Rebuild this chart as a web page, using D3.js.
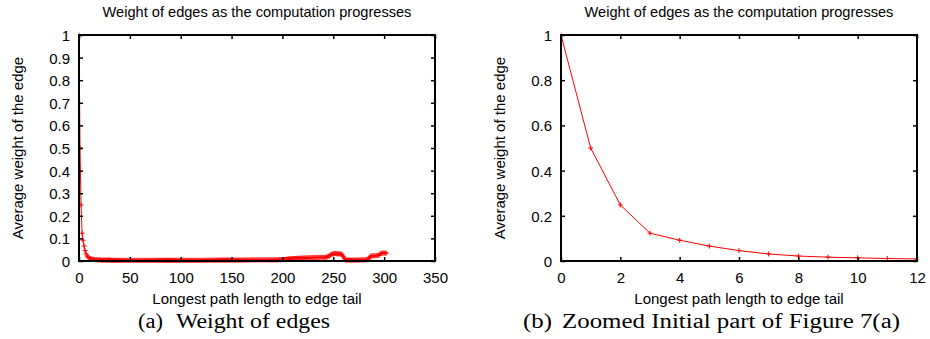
<!DOCTYPE html>
<html>
<head>
<meta charset="utf-8">
<script src="https://cdn.jsdelivr.net/npm/d3@7"></script>
<style>
  body { margin: 0; background: #fff; }
  svg { display: block; }
</style>
</head>
<body>
<svg id="chart" width="930" height="339"></svg>
<script>
// average edge weight, one value per longest-path length 0..302
const avgWeight = [
  1, 0.5, 0.248, 0.123, 0.092, 0.066, 0.046, 0.031, 0.022, 0.017, 0.014, 0.011, 0.009,
  0.008, 0.007, 0.007, 0.006, 0.006, 0.005, 0.005,
  0.005, 0.005, 0.004, 0.004, 0.004, 0.004, 0.004, 0.004, 0.004, 0.004,
  0.004, 0.004, 0.003, 0.003, 0.003, 0.003, 0.003, 0.003, 0.003, 0.003,
  0.003, 0.003, 0.003, 0.003, 0.003, 0.003, 0.003, 0.003, 0.003, 0.003,
  0.003, 0.003, 0.003, 0.003, 0.003, 0.003, 0.003, 0.003, 0.003, 0.003,
  0.003, 0.003, 0.003, 0.003, 0.003, 0.003, 0.003, 0.003, 0.003, 0.003,
  0.003, 0.003, 0.003, 0.003, 0.003, 0.003, 0.003, 0.003, 0.003, 0.003,
  0.003, 0.003, 0.003, 0.003, 0.003, 0.003, 0.003, 0.003, 0.003, 0.003,
  0.003, 0.003, 0.003, 0.003, 0.003, 0.003, 0.003, 0.003, 0.003, 0.003,
  0.003, 0.003, 0.003, 0.003, 0.003, 0.003, 0.003, 0.003, 0.003, 0.003,
  0.003, 0.003, 0.003, 0.003, 0.003, 0.003, 0.003, 0.003, 0.003, 0.003,
  0.003, 0.003, 0.003, 0.003, 0.003, 0.004, 0.003, 0.003, 0.004, 0.003,
  0.004, 0.003, 0.004, 0.004, 0.003, 0.004, 0.004, 0.004, 0.004, 0.004,
  0.004, 0.004, 0.004, 0.004, 0.004, 0.004, 0.004, 0.004, 0.004, 0.004,
  0.004, 0.004, 0.004, 0.004, 0.004, 0.004, 0.004, 0.004, 0.004, 0.004,
  0.004, 0.004, 0.004, 0.005, 0.004, 0.004, 0.005, 0.004, 0.005, 0.005,
  0.005, 0.005, 0.005, 0.005, 0.005, 0.005, 0.005, 0.005, 0.005, 0.005,
  0.005, 0.005, 0.005, 0.005, 0.005, 0.005, 0.005, 0.005, 0.005, 0.005,
  0.005, 0.005, 0.005, 0.005, 0.005, 0.005, 0.005, 0.006, 0.005, 0.006,
  0.006, 0.006, 0.007, 0.007, 0.008, 0.008, 0.009, 0.009, 0.010, 0.010,
  0.010, 0.011, 0.011, 0.011, 0.012, 0.012, 0.012, 0.012, 0.013, 0.013,
  0.013, 0.013, 0.013, 0.014, 0.014, 0.014, 0.014, 0.015, 0.015, 0.015,
  0.015, 0.015, 0.016, 0.016, 0.015, 0.015, 0.016, 0.016, 0.016, 0.016,
  0.016, 0.015, 0.016, 0.017, 0.018, 0.020, 0.023, 0.026, 0.029, 0.031,
  0.032, 0.033, 0.033, 0.032, 0.032, 0.032, 0.031, 0.031, 0.030, 0.026,
  0.018, 0.010, 0.005, 0.004, 0.004, 0.004, 0.004, 0.004, 0.004, 0.004,
  0.004, 0.004, 0.004, 0.004, 0.004, 0.005, 0.004, 0.005, 0.005, 0.005,
  0.005, 0.005, 0.006, 0.006, 0.008, 0.012, 0.018, 0.022, 0.023, 0.023,
  0.023, 0.023, 0.024, 0.024, 0.024, 0.026, 0.031, 0.034, 0.035, 0.035,
  0.035, 0.035, 0.035
];
const pathLength = avgWeight.map((d, i) => i);

const fullXTicks = [0, 50, 100, 150, 200, 250, 300, 350];
const fullYTicks = [0, 0.1, 0.2, 0.3, 0.4, 0.5, 0.6, 0.7, 0.8, 0.9, 1];
const zoomXTicks = [0, 2, 4, 6, 8, 10, 12];
const zoomYTicks = [0, 0.2, 0.4, 0.6, 0.8, 1];

const chartTitle = "Weight of edges as the computation progresses";
const xTitle = "Longest path length to edge tail";
const yTitle = "Average weight of the edge";

const svg = d3.select("#chart");
const sans = "'Liberation Sans', Arial, sans-serif";
const serif = "'Liberation Serif', 'DejaVu Serif', serif";
const plotTop = 35, plotBottom = 261;
const fmt = d3.format("~g");

function drawPanel(p) {
  const x = d3.scaleLinear().domain(p.xDomain).range([p.left, p.right]);
  const y = d3.scaleLinear().domain([0, 1]).range([plotBottom, plotTop]);
  const g = svg.append("g");

  g.append("clipPath").attr("id", p.id)
    .append("rect")
      .attr("x", p.left).attr("y", plotTop - 4)
      .attr("width", p.right - p.left).attr("height", plotBottom - plotTop + 8);

  const plot = g.append("g").attr("clip-path", `url(#${p.id})`);
  const pts = pathLength.map(i => [i, avgWeight[i]]).filter(d => d[0] <= p.xDomain[1] + 1);

  plot.append("path")
    .datum(pts)
    .attr("fill", "none")
    .attr("stroke", "#ff0000")
    .attr("stroke-width", 1)
    .attr("d", d3.line().x(d => x(d[0])).y(d => y(d[1])));

  plot.append("g").selectAll("path")
    .data(pts)
    .enter().append("path")
      .attr("transform", d => `translate(${x(d[0])},${y(d[1])})`)
      .attr("d", "M-2.5,0H2.5M0,-2.5V2.5")
      .attr("stroke", "#ff0000")
      .attr("stroke-width", 1);

  const tickStyle = (ax) => {
    ax.select(".domain").remove();
    ax.selectAll("line").attr("stroke", "#000").attr("stroke-width", 1.5);
    ax.selectAll("text").attr("fill", "#000");
    ax.style("font", `15px ${sans}`);
  };

  g.append("g").attr("transform", `translate(0,${plotBottom})`)
    .call(d3.axisBottom(x).tickValues(p.xTicks).tickFormat(fmt).tickSize(-4).tickSizeOuter(0).tickPadding(11))
    .call(tickStyle);
  g.append("g").attr("transform", `translate(0,${plotTop})`)
    .call(d3.axisTop(x).tickValues(p.xTicks).tickFormat("").tickSize(-4).tickSizeOuter(0))
    .call(tickStyle);
  g.append("g").attr("transform", `translate(${p.left},0)`)
    .call(d3.axisLeft(y).tickValues(p.yTicks).tickFormat(fmt).tickSize(-4).tickSizeOuter(0).tickPadding(9))
    .call(tickStyle)
    .selectAll("text").attr("dy", "0.36em");
  g.append("g").attr("transform", `translate(${p.right},0)`)
    .call(d3.axisRight(y).tickValues(p.yTicks).tickFormat("").tickSize(-4).tickSizeOuter(0))
    .call(tickStyle);

  g.append("rect")
    .attr("x", p.left).attr("y", plotTop)
    .attr("width", p.right - p.left).attr("height", plotBottom - plotTop)
    .attr("fill", "none").attr("stroke", "#000").attr("stroke-width", 2);

  const cx = (p.left + p.right) / 2;
  g.append("text")
    .attr("x", cx).attr("y", 17)
    .attr("text-anchor", "middle")
    .style("font", `14.6px ${sans}`)
    .text(chartTitle);
  g.append("text")
    .attr("x", cx).attr("y", 304)
    .attr("text-anchor", "middle")
    .style("font", `15px ${sans}`)
    .text(xTitle);
  g.append("text")
    .attr("transform", `translate(${p.yTitleX},${(plotTop + plotBottom) / 2}) rotate(-90)`)
    .attr("text-anchor", "middle")
    .style("font", `15px ${sans}`)
    .text(yTitle);

  g.append("text")
    .attr("x", p.capTag[0]).attr("y", 328)
    .attr("textLength", p.capTag[1] - p.capTag[0]).attr("lengthAdjust", "spacingAndGlyphs")
    .style("font", `20px ${serif}`)
    .text(p.tag);
  g.append("text")
    .attr("x", p.capText[0]).attr("y", 328)
    .attr("textLength", p.capText[1] - p.capText[0]).attr("lengthAdjust", "spacingAndGlyphs")
    .style("font", `20px ${serif}`)
    .text(p.caption);
}

drawPanel({
  id: "clipFull", left: 79, right: 435, xDomain: [0, 350],
  xTicks: fullXTicks, yTicks: fullYTicks, yTitleX: 23,
  tag: "(a)", caption: "Weight of edges",
  capTag: [138, 163], capText: [176, 330]
});
drawPanel({
  id: "clipZoom", left: 561, right: 917, xDomain: [0, 12],
  xTicks: zoomXTicks, yTicks: zoomYTicks, yTitleX: 505,
  tag: "(b)", caption: "Zoomed Initial part of Figure 7(a)",
  capTag: [523, 552], capText: [562, 900]
});
</script>
</body>
</html>
